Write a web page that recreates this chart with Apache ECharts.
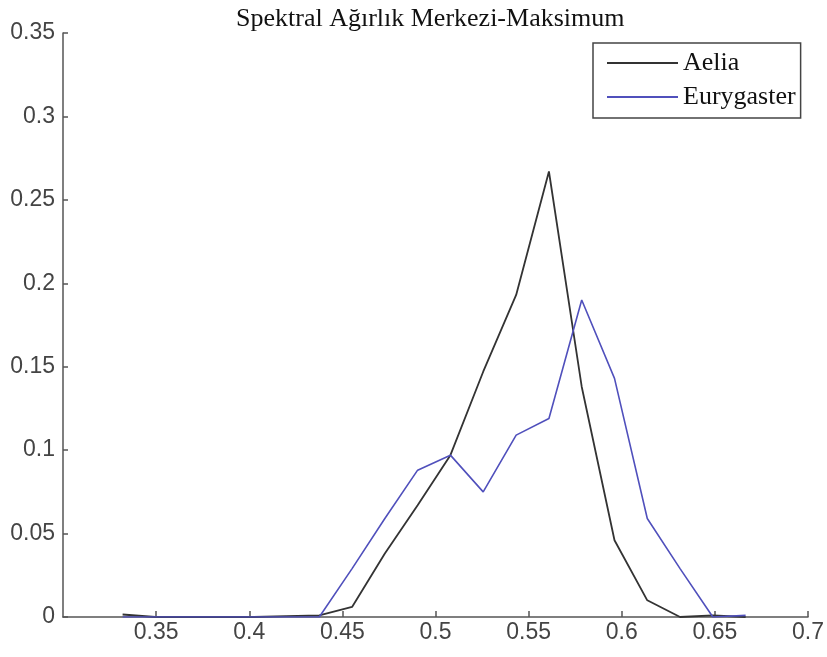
<!DOCTYPE html>
<html>
<head>
<meta charset="utf-8">
<script src="https://cdn.jsdelivr.net/npm/echarts@6/dist/echarts.min.js"></script>
<style>
	html, body { margin: 0; padding: 0; background: #fff; }
	#chart { width: 827px; height: 657px; }
</style>
</head>
<body>
<div id="chart"></div>
<script>
	// bin centres
	const binX = [0.332, 0.3495, 0.3671, 0.3847, 0.4024, 0.42, 0.4376, 0.4552, 0.4728, 0.4904,
		0.508, 0.5256, 0.5433, 0.5609, 0.5785, 0.5961, 0.6137, 0.6313, 0.6489, 0.6665];
	const aelia = [0.0015, 0, 0, 0, 0, 0.0005, 0.001, 0.006, 0.038, 0.067,
		0.097, 0.147, 0.193, 0.267, 0.138, 0.046, 0.010, 0, 0.001, 0];
	const eurygaster = [0, 0, 0, 0, 0, 0, 0, 0.029, 0.059, 0.088,
		0.097, 0.075, 0.109, 0.119, 0.190, 0.143, 0.059, 0.029, 0, 0.001];
	const seriesNames = ['Aelia', 'Eurygaster'];
	const chartTitle = 'Spektral Ağırlık Merkezi-Maksimum';

	let toPairs = (ys) => binX.map((x, i) => [x, ys[i]]);

	let chart = echarts.init(document.getElementById('chart'), null, { renderer: 'canvas' });

	let option = {
		animation: false,
		backgroundColor: '#fff',
		title: {
			text: chartTitle,
			left: 231,
			top: 1,
			textStyle: {
				fontFamily: 'Liberation Serif',
				fontWeight: 'normal',
				fontSize: 26,
				color: '#111'
			}
		},
		legend: {
			orient: 'vertical',
			left: 593,
			top: 43,
			padding: [7, 5, 8, 14],
			icon: 'rect',
			itemWidth: 71,
			itemHeight: 2,
			itemGap: 8,
			borderColor: '#444',
			borderWidth: 1.5,
			data: seriesNames,
			textStyle: {
				fontFamily: 'Liberation Serif',
				fontSize: 26,
				color: '#111'
			}
		},
		grid: {
			left: 63,
			right: 12,
			top: 33,
			bottom: 40
		},
		xAxis: {
			type: 'value',
			min: 0.3,
			max: 0.7,
			interval: 0.05,
			splitLine: { show: false },
			axisLine: { lineStyle: { color: '#555', width: 1.5 } },
			axisTick: { inside: true, length: 6, lineStyle: { color: '#555', width: 1.5 } },
			axisLabel: {
				showMinLabel: false,
				margin: 4,
				fontFamily: 'Liberation Sans',
				fontSize: 23,
				color: '#444'
			}
		},
		yAxis: {
			type: 'value',
			min: 0,
			max: 0.35,
			interval: 0.05,
			splitLine: { show: false },
			axisLine: { show: true, lineStyle: { color: '#555', width: 1.5 } },
			axisTick: { show: true, inside: true, length: 5, lineStyle: { color: '#555', width: 1.5 } },
			axisLabel: {
				margin: 8,
				fontFamily: 'Liberation Sans',
				fontSize: 23,
				color: '#444'
			}
		},
		series: [{
				name: seriesNames[0],
				type: 'line',
				symbol: 'none',
				data: toPairs(aelia),
				lineStyle: { color: '#333', width: 1.8 },
				itemStyle: { color: '#333' }
			},
			{
				name: seriesNames[1],
				type: 'line',
				symbol: 'none',
				data: toPairs(eurygaster),
				lineStyle: { color: '#5050bc', width: 1.6 },
				itemStyle: { color: '#5050bc' }
			}
		]
	};

	chart.setOption(option);
</script>
</body>
</html>
